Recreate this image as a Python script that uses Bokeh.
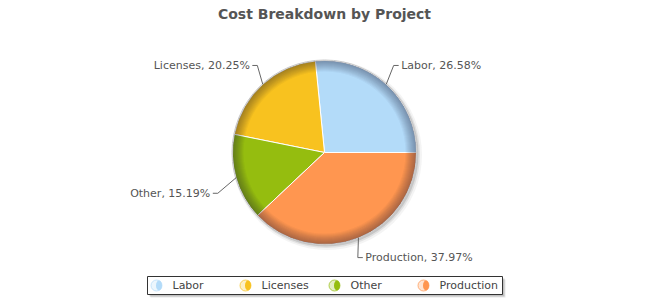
import math
import numpy as np
from bokeh.plotting import figure
from bokeh.models import Range1d, ColumnDataSource
from bokeh.core.properties import value
from bokeh.embed import file_html
from bokeh.resources import INLINE

# ---- data ----
title_text = "Cost Breakdown by Project"
categories = ["Labor", "Licenses", "Other", "Production"]
amounts = [21, 16, 12, 30]
colors = ["#B3DBF9", "#F8C21F", "#95BD0F", "#FF9650"]

W, H = 648, 298
FONT = "DejaVu Sans"

def Y(py):
    return H - py

total = float(sum(amounts))
pct = [a / total * 100 for a in amounts]
ang = np.cumsum([0] + [a / total * 2 * math.pi for a in amounts])
starts = ang[:-1]
ends = ang[1:]
mids = (starts + ends) / 2

p = figure(width=W, height=H, x_range=Range1d(0, W), y_range=Range1d(0, H),
           output_backend="svg", toolbar_location=None, min_border=0)
p.axis.visible = False
p.grid.visible = False
p.outline_line_color = None
p.background_fill_color = "white"
p.border_fill_color = "white"

cx, cy, r = 324.0, 152.0, 92.0

# title
p.text(x=[W / 2], y=[Y(13.5)], text=[title_text], text_font=value(FONT),
       text_font_style="bold", text_font_size="14px", text_color="#555555",
       text_align="center", text_baseline="middle")

# shadow
for rr, a, dx in [(95, 0.08, 2.5), (93.5, 0.15, 2), (92.5, 0.25, 1.5)]:
    p.circle(x=[cx + dx], y=[Y(cy + dx)], radius=rr, fill_color="#777777",
             fill_alpha=a, line_color=None)

src = ColumnDataSource(dict(start=starts, end=ends, color=colors))
p.wedge(x=cx, y=Y(cy), radius=r, start_angle="start", end_angle="end",
        fill_color="color", line_color="white", line_width=1, source=src)

# bevel darkening near the rim
for i in range(11):
    p.annulus(x=[cx], y=[Y(cy)], inner_radius=r - 11 + i, outer_radius=r,
              fill_color="#1a2530", fill_alpha=0.04, line_color=None)

p.circle(x=[cx], y=[Y(cy)], radius=r + 0.5, fill_color=None,
         line_color="#c8c8c8", line_width=1)

# labels with connectors
nudges = {"Labor": (-6, -4), "Licenses": (8, -4), "Other": (1, 10), "Production": (-8, 1)}
for name, pc, m in zip(categories, pct, mids):
    ex, ey = cx + r * math.cos(m), cy - r * math.sin(m)
    nx, ny = nudges[name]
    bx, by = cx + 112 * math.cos(m) + nx, cy - 112 * math.sin(m) + ny
    side = 1 if math.cos(m) >= 0 else -1
    hx = bx + side * 5
    p.line(x=[ex, bx, hx], y=[Y(ey), Y(by), Y(by)], line_color="#666666", line_width=1)
    p.text(x=[hx + side * 2.5], y=[Y(by)], text=[f"{name}, {pc:.2f}%"],
           text_font=value(FONT), text_font_size="11px", text_color="#555555",
           text_align="left" if side > 0 else "right", text_baseline="middle")

# legend
lx0, lx1, ly0, ly1 = 147, 502, 276, 294
for off, a in [(3, 0.15), (2, 0.3)]:
    p.quad(left=[lx0 + off], right=[lx1 + off], top=[Y(ly0 + off)], bottom=[Y(ly1 + off)],
           fill_color="#666666", fill_alpha=a, line_color=None)
p.quad(left=[lx0], right=[lx1], top=[Y(ly0)], bottom=[Y(ly1)],
       fill_color="white", line_color="#333333", line_width=1)

item_x = [156, 245, 334, 423]
for name, col, ix in zip(categories, colors, item_x):
    p.circle(x=[ix], y=[Y(285)], radius=5.5, fill_color=col, fill_alpha=0.25,
             line_color=col, line_alpha=0.7, line_width=1)
    p.ellipse(x=[ix + 2.5], y=[Y(285)], width=6, height=10, fill_color=col,
              line_color=None)
    p.text(x=[ix + 16], y=[Y(285)], text=[name], text_font=value(FONT),
           text_font_size="11px", text_color="#444444", text_align="left",
           text_baseline="middle")

open("out.html", "w").write(file_html(p, INLINE))
